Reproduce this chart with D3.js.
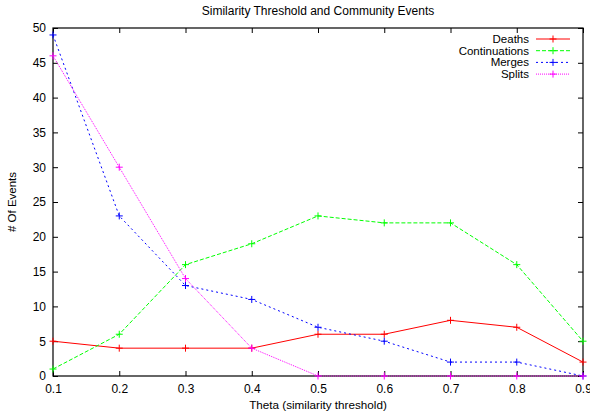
<!DOCTYPE html>
<html>
<head>
<meta charset="utf-8">
<script src="https://cdn.jsdelivr.net/npm/d3@7"></script>
<style>
  body { margin: 0; background: #fff; }
  text { font-family: "Liberation Sans", Arial, sans-serif; fill: #000; }
</style>
</head>
<body>
<svg></svg>
<script>
// Data
const theta = [0.1, 0.2, 0.3, 0.4, 0.5, 0.6, 0.7, 0.8, 0.9];
const deaths = [5, 4, 4, 4, 6, 6, 8, 7, 2];
const continuations = [1, 6, 16, 19, 23, 22, 22, 16, 5];
const merges = [49, 23, 13, 11, 7, 5, 2, 2, 0];
const splits = [46, 30, 14, 4, 0, 0, 0, 0, 0];
const seriesNames = ["Deaths", "Continuations", "Merges", "Splits"];
const yTicks = [0, 5, 10, 15, 20, 25, 30, 35, 40, 45, 50];

const series = [
  { name: seriesNames[0], values: deaths, color: "#ff0000", dash: null },
  { name: seriesNames[1], values: continuations, color: "#00ff00", dash: "4,2" },
  { name: seriesNames[2], values: merges, color: "#0000ff", dash: "2,3" },
  { name: seriesNames[3], values: splits, color: "#ff00ff", dash: "1,1" }
];

const W = 590, H = 416;
const margin = { top: 28, right: 7, bottom: 40, left: 53 },
  width = W - margin.left - margin.right,
  height = H - margin.top - margin.bottom;

const svg = d3.select("svg").attr("width", W).attr("height", H);
const g = svg.append("g").attr("transform", `translate(${margin.left},${margin.top})`);

const x = d3.scaleLinear().domain([0.1, 0.9]).range([0, width]);
const y = d3.scaleLinear().domain([0, 50]).range([height, 0]);

// Axes with inward ticks, mirrored on top and right
const tickLen = 5;
g.append("g").attr("transform", `translate(0,${height})`)
  .call(d3.axisBottom(x).tickValues(theta).tickFormat(d3.format(".1f")).tickSizeInner(-tickLen).tickSizeOuter(0).tickPadding(8))
  .call(a => a.select(".domain").remove());
g.append("g")
  .call(d3.axisTop(x).tickValues(theta).tickFormat("").tickSizeInner(-tickLen).tickSizeOuter(0))
  .call(a => a.select(".domain").remove());
g.append("g")
  .call(d3.axisLeft(y).tickValues(yTicks).tickSizeInner(-tickLen).tickSizeOuter(0).tickPadding(7))
  .call(a => a.select(".domain").remove());
g.append("g").attr("transform", `translate(${width},0)`)
  .call(d3.axisRight(y).tickValues(yTicks).tickFormat("").tickSizeInner(-tickLen).tickSizeOuter(0))
  .call(a => a.select(".domain").remove());
g.selectAll(".tick text").style("font-size", "12px").style("font-family", "Liberation Sans, Arial, sans-serif");
g.selectAll(".tick line").attr("stroke", "#000");

// Frame
g.append("rect").attr("width", width).attr("height", height)
  .attr("fill", "none").attr("stroke", "#000").attr("stroke-width", 1.2);

// Lines
const line = d3.line().x((d, i) => x(theta[i])).y(d => y(d));
const cross = 3.5;
series.forEach(s => {
  g.append("path").datum(s.values)
    .attr("d", line)
    .attr("fill", "none")
    .attr("stroke", s.color)
    .attr("stroke-width", 1)
    .attr("stroke-dasharray", s.dash);
  g.selectAll(null).data(s.values).enter().append("path")
    .attr("d", (d, i) => {
      const px = x(theta[i]), py = y(d);
      return `M${px - cross},${py}H${px + cross}M${px},${py - cross}V${py + cross}`;
    })
    .attr("stroke", s.color).attr("stroke-width", 1);
});

// Legend
const legend = svg.append("g");
series.forEach((s, i) => {
  const ly = 39 + i * 11.7;
  legend.append("text").attr("x", 529).attr("y", ly).attr("dy", "0.35em")
    .attr("text-anchor", "end").style("font-size", "11.5px").text(s.name);
  legend.append("line").attr("x1", 536).attr("x2", 570).attr("y1", ly).attr("y2", ly)
    .attr("stroke", s.color).attr("stroke-dasharray", s.dash);
  legend.append("path")
    .attr("d", `M${553 - cross},${ly}H${553 + cross}M553,${ly - cross}V${ly + cross}`)
    .attr("stroke", s.color);
});

// Title and axis labels
svg.append("text").attr("x", margin.left + width / 2).attr("y", 15)
  .attr("text-anchor", "middle").style("font-size", "12px")
  .text("Similarity Threshold and Community Events");
svg.append("text").attr("x", margin.left + width / 2).attr("y", 409)
  .attr("text-anchor", "middle").style("font-size", "11.7px")
  .text("Theta (similarity threshold)");
svg.append("text").attr("transform", `translate(16,${margin.top + height / 2}) rotate(-90)`)
  .attr("text-anchor", "middle").style("font-size", "11.5px")
  .text("# Of Events");
</script>
</body>
</html>
